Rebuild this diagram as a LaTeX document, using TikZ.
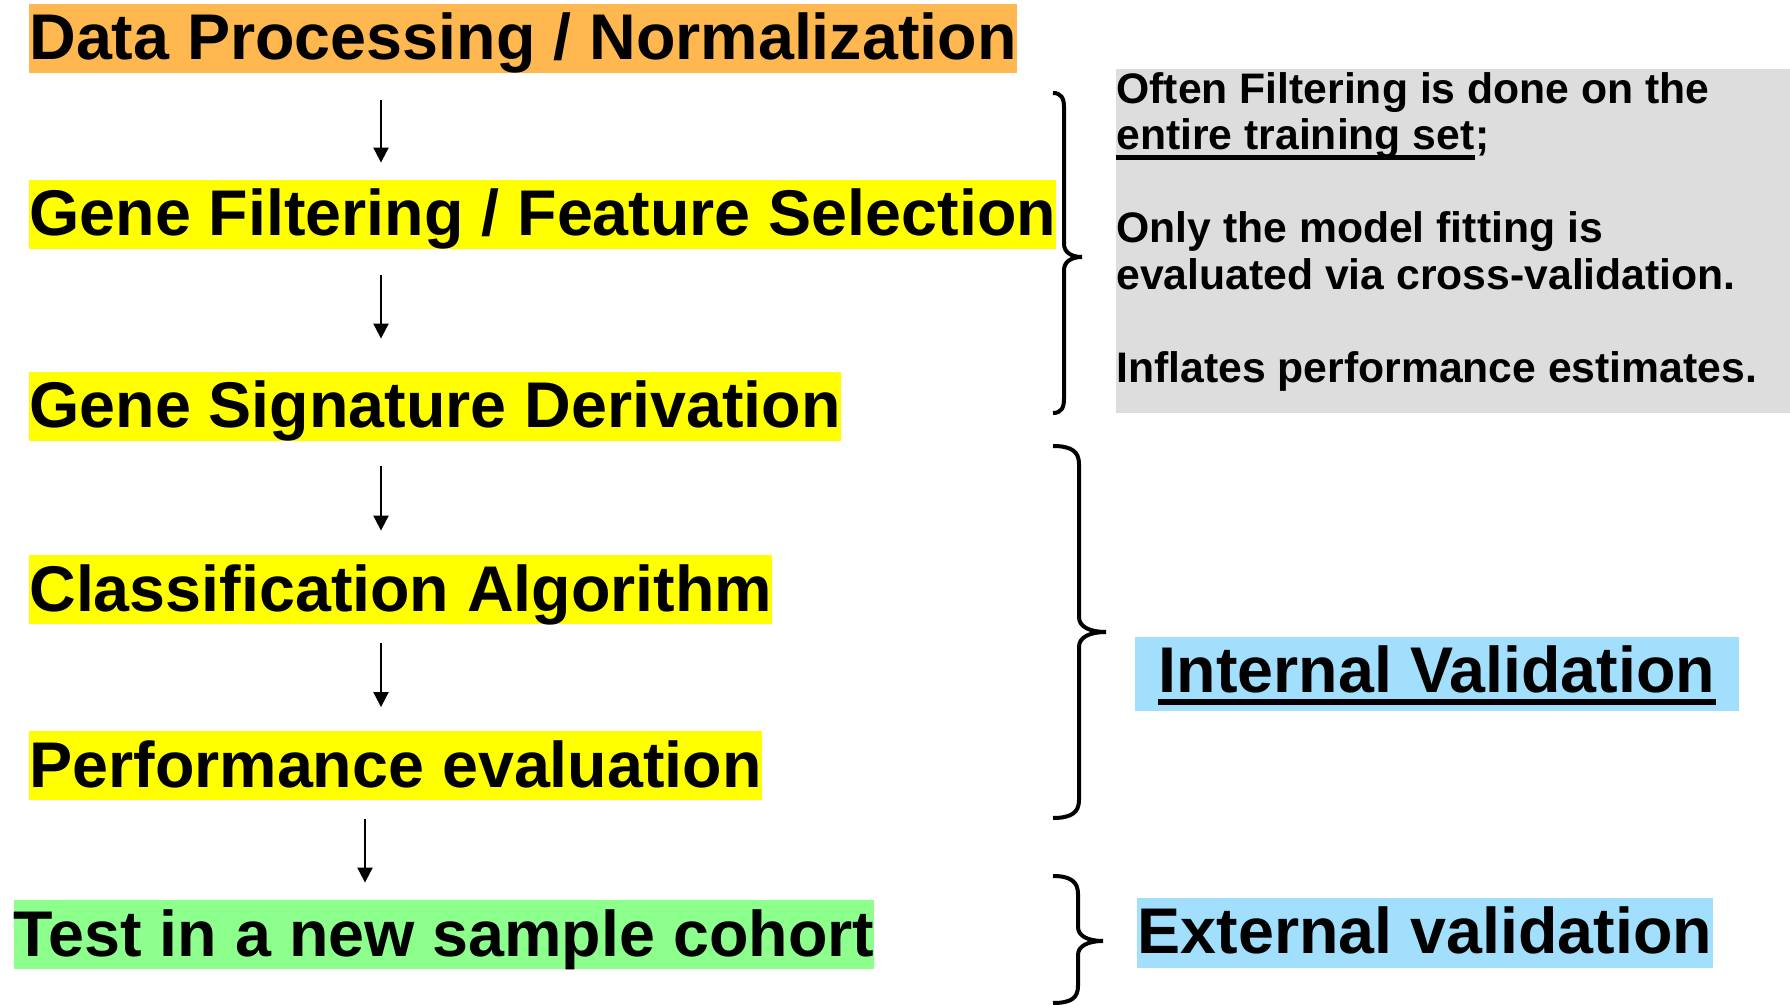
\documentclass[tikz,border=0pt]{standalone}
\usepackage{fontspec}
\setmainfont{Liberation Sans}
\usetikzlibrary{arrows.meta,calc}
\definecolor{boxorange}{HTML}{FFB74F}
\definecolor{boxyellow}{HTML}{FFFF00}
\definecolor{boxgreen}{HTML}{8CFF8C}
\definecolor{boxblue}{HTML}{A2DFFC}
\definecolor{notegrey}{HTML}{DDDDDD}
\begin{document}
\begin{tikzpicture}[x=0.5pt,y=-0.5pt,
  big/.style={font=\fontsize{32.3pt}{38pt}\selectfont\bfseries, inner sep=0pt, text height=28pt, text depth=6.5pt, anchor=base west},
  small/.style={font=\fontsize{21.35pt}{23.25pt}\selectfont\bfseries, inner sep=0pt, anchor=base west},
  label/.style={font=\fontsize{32.3pt}{38pt}\selectfont\bfseries, fill=boxblue, inner ysep=0pt, text height=27.5pt, anchor=base},
  flowarrow/.style={line width=1pt, -{Triangle[length=7.5pt,width=7.5pt]}},
  bracestyle/.style={line width=2pt},
]
\useasboundingbox (0,0) rectangle (1790,1005);

% flow steps
\node[big, fill=boxorange] (d1) at (29,60)   {Data Processing / Normalization};
\node[big, fill=boxyellow] (d2) at (29,236)  {Gene Filtering / Feature Selection};
\node[big, fill=boxyellow] (d3) at (29,428)  {Gene Signature Derivation};
\node[big, fill=boxyellow] (d4) at (29,611)  {Classification Algorithm};
\node[big, fill=boxyellow] (d5) at (29,787)  {Performance evaluation};
\node[big, fill=boxgreen]  (d6) at (13.5,956) {Test in a new sample cohort};

% arrows
\draw[flowarrow, shorten <=13.5pt, shorten >=8.5pt] ($(d1.south west)+(352,0)$) -- ($(d2.north west)+(352,0)$);
\draw[flowarrow, shorten <=13pt, shorten >=16.5pt] ($(d2.south west)+(352,0)$) -- ($(d3.north west)+(352,0)$);
\draw[flowarrow, shorten <=12.5pt, shorten >=12pt] ($(d3.south west)+(352,0)$) -- ($(d4.north west)+(352,0)$);
\draw[flowarrow, shorten <=9.5pt, shorten >=11.75pt] ($(d4.south west)+(352,0)$) -- ($(d5.north west)+(352,0)$);
\draw[flowarrow, shorten <=9.5pt, shorten >=8.5pt] ($(d5.south west)+(336,0)$) -- ($(d6.north west)+(351.5,0)$);

% note box
\node[fill=notegrey, inner sep=0pt, minimum width=337pt, minimum height=172pt, anchor=north west] (note) at (1116,69) {};
\node[small] (n1) at (1116,103.5) {Often Filtering is done on the};
\node[small] (n2) at (1116,150) {entire training set};
\node[small] (n2s) at (n2.base east) {;};
\draw[line width=2.2pt] ($(n2.base west)+(0,7.5)$) -- ($(n2.base east)+(0,7.5)$);
\node[small] (n3) at (1116,243) {Only the model fitting is};
\node[small] (n4) at (1116,289.5) {evaluated via cross-validation.};
\node[small] (n5) at (1116,382.5) {Inflates performance estimates.};

% validation labels
\node[label, inner xsep=12pt, text depth=9.5pt] (iv) at (1437,692) {Internal Validation};
\draw[line width=3pt] ($(iv.base west)+(24,9.5)$) -- ($(iv.base east)+(-24,9.5)$);
\node[label, inner xsep=0.5pt, text depth=7.5pt] (ev) at (1425,953) {External validation};

% braces
\draw[bracestyle] (1053,93) .. controls (1061,93) and (1064,98) .. (1064,107)
  -- (1064,244) .. controls (1064,252) and (1071,257) .. (1082,257)
  .. controls (1071,257) and (1064,262) .. (1064,270)
  -- (1064,399) .. controls (1064,408) and (1061,413) .. (1053,413);
\draw[bracestyle] (1053,446) .. controls (1072,446) and (1079,452) .. (1079,464)
  -- (1079,617) .. controls (1079,627) and (1090,632) .. (1106,632)
  .. controls (1090,632) and (1079,637) .. (1079,647)
  -- (1079,800) .. controls (1079,812) and (1072,818) .. (1053,818);
\draw[bracestyle] (1053,876) .. controls (1071,876) and (1078,882) .. (1078,894)
  -- (1078,927) .. controls (1078,936) and (1088,941) .. (1103,941)
  .. controls (1088,941) and (1078,946) .. (1078,955)
  -- (1078,986) .. controls (1078,998) and (1071,1003) .. (1053,1003);
\end{tikzpicture}
\end{document}
